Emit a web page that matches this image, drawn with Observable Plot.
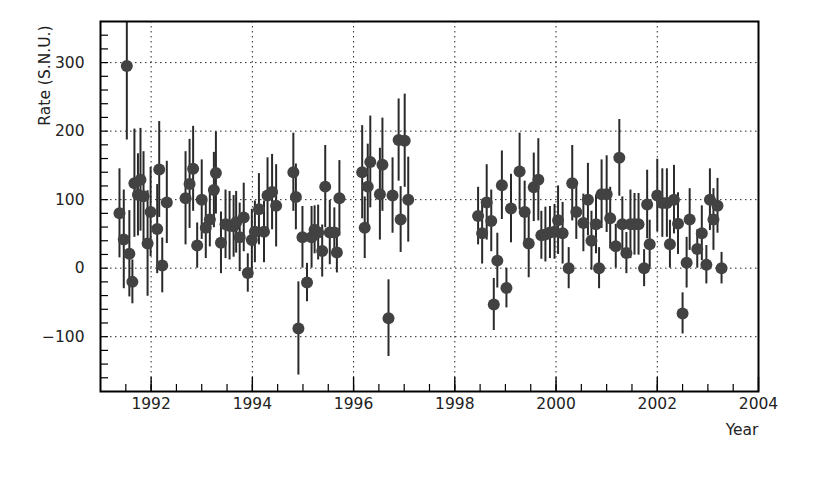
<!DOCTYPE html>
<html><head><meta charset="utf-8">
<script src="https://cdn.jsdelivr.net/npm/d3@7"></script>
<script src="https://cdn.jsdelivr.net/npm/@observablehq/plot@0.6"></script>
<style>body{margin:0;background:#fff}</style>
</head><body><div id="chart"></div>
<script>
const years = [
  1991.375, 1991.46, 1991.52, 1991.57, 1991.63, 1991.67, 1991.74, 1991.79, 1991.85, 1991.93,
  1991.99, 1992.12, 1992.16, 1992.22, 1992.31, 1992.68, 1992.76, 1992.83, 1992.91, 1993.00,
  1993.08, 1993.16, 1993.24, 1993.28, 1993.38, 1993.47, 1993.55, 1993.63, 1993.68, 1993.75,
  1993.83, 1993.91, 1993.99, 1994.05, 1994.13, 1994.23, 1994.30, 1994.39, 1994.47,
  1994.81, 1994.86, 1994.91, 1994.99, 1995.08, 1995.17, 1995.23, 1995.30, 1995.38, 1995.44,
  1995.53, 1995.62, 1995.67, 1995.72,
  1996.17, 1996.22, 1996.28, 1996.33, 1996.52, 1996.57, 1996.69, 1996.77, 1996.89, 1996.93,
  1997.01, 1997.08,
  1998.46, 1998.54, 1998.63, 1998.72, 1998.77, 1998.84, 1998.93, 1999.02, 1999.11, 1999.28,
  1999.38, 1999.46, 1999.56, 1999.65, 1999.71, 1999.79, 1999.88, 1999.97, 2000.04, 2000.13,
  2000.25, 2000.32, 2000.40, 2000.54, 2000.63, 2000.70, 2000.79, 2000.85, 2000.90, 2001.00,
  2001.07, 2001.18, 2001.25, 2001.31, 2001.39, 2001.47, 2001.55, 2001.63, 2001.74, 2001.80,
  2001.85, 2002.00, 2002.10, 2002.19, 2002.25, 2002.33, 2002.41, 2002.50, 2002.58, 2002.64,
  2002.79, 2002.88, 2002.97, 2003.04, 2003.11, 2003.19, 2003.27
];
const rates = [
  80, 42, 295, 21, -20, 124, 107, 129, 105, 36,
  82, 57, 144, 4, 96, 102, 123, 145, 33, 100,
  59, 71, 114, 139, 37, 64, 62, 61, 67, 45,
  74, -7, 41, 53, 86, 53, 106, 111, 91,
  140, 104, -88, 45, -21, 45, 56, 52, 25, 119,
  52, 52, 23, 102,
  140, 59, 119, 155, 108, 151, -73, 106, 187, 71,
  186, 100,
  76, 51, 96, 69, -53, 11, 121, -29, 87, 141,
  82, 36, 118, 129, 48, 49, 52, 53, 70, 51,
  0, 124, 82, 66, 100, 40, 64, 0, 108, 108,
  73, 32, 161, 64, 22, 64, 64, 64, 0, 93,
  35, 106, 95, 95, 35, 100, 65, -66, 8, 71,
  28, 51, 5, 100, 71, 91, 0
];
const errors = [
  65, 72, 108, 63, 32, 79, 60, 75, 65, 77,
  65, 65, 70, 40, 60, 68, 65, 62, 33, 58,
  45, 40, 55, 60, 45, 50, 50, 45, 45, 50,
  50, 28, 45, 45, 52, 45, 55, 55, 60,
  57, 48, 68, 45, 28, 45, 35, 40, 38, 60,
  47, 36, 30, 55,
  68, 45, 62, 67, 67, 68, 56, 55, 60, 48,
  68, 62,
  42, 45, 55, 45, 38, 40, 50, 29, 50, 56,
  45, 50, 50, 60, 35, 40, 38, 40, 50, 45,
  30, 55, 40, 42, 53, 43, 43, 30, 50, 56,
  45, 32, 56, 40, 30, 50, 45, 45, 27, 50,
  35, 53, 50, 50, 35, 50, 45, 30, 37, 45,
  28, 40, 28, 45, 45, 40, 23
];
const xTickLabels = [1992, 1994, 1996, 1998, 2000, 2002, 2004];
const yTickLabels = [-100, 0, 100, 200, 300];
const yTitle = "Rate (S.N.U.)";
const xTitle = "Year";

const data = years.map((t, i) => ({t, r: rates[i], e: errors[i]}));
const xMinor = d3.range(1991.5, 2004, 0.5);
const yMinor = d3.range(-160, 360, 20);

const chart = Plot.plot({
  width: 817, height: 477,
  marginLeft: 100, marginRight: 59, marginTop: 21, marginBottom: 86,
  style: {fontFamily: "'DejaVu Sans', sans-serif", fontSize: "15.5px", color: "#222", background: "#fff"},
  x: {domain: [1991, 2004]},
  y: {domain: [-180, 360]},
  marks: [
    Plot.ruleY(yTickLabels, {stroke: "#000", strokeDasharray: "1.5,3.5", strokeOpacity: 0.85}),
    Plot.ruleX(xTickLabels.filter(d => d < 2004), {stroke: "#000", strokeDasharray: "1.5,3.5", strokeOpacity: 0.85}),
    Plot.axisY(yMinor, {tickSize: -8, fill: "none", stroke: "#000", strokeWidth: 1.2}),
    Plot.axisY(yTickLabels, {tickSize: 0, tickPadding: 16, label: null, fill: "#222"}),
    Plot.axisX(xMinor, {tickSize: -7, fill: "none", stroke: "#000", strokeWidth: 1.2}),
    Plot.axisX(xTickLabels, {tickSize: -14, fill: "none", stroke: "#000", strokeWidth: 1.4}),
    Plot.axisX(xTickLabels, {tickSize: 0, tickPadding: 6, label: null, tickFormat: d => String(d), fill: "#222"}),
    Plot.ruleX(data, {x: "t", y1: d => d.r - d.e, y2: d => d.r + d.e, stroke: "#2a2a2a", strokeWidth: 2, clip: true}),
    Plot.dot(data, {x: "t", y: "r", r: 6, fill: "#424242", clip: true}),
    Plot.frame({stroke: "#000", strokeWidth: 2}),
    Plot.text([yTitle], {frameAnchor: "top-left", rotate: -90, textAnchor: "end", dx: -62, dy: 4, fill: "#222"}),
    Plot.text([xTitle], {frameAnchor: "bottom-right", textAnchor: "end", dx: 0, dy: 43, fill: "#222"})
  ]
});
document.getElementById("chart").appendChild(chart);
</script>
</body></html>
